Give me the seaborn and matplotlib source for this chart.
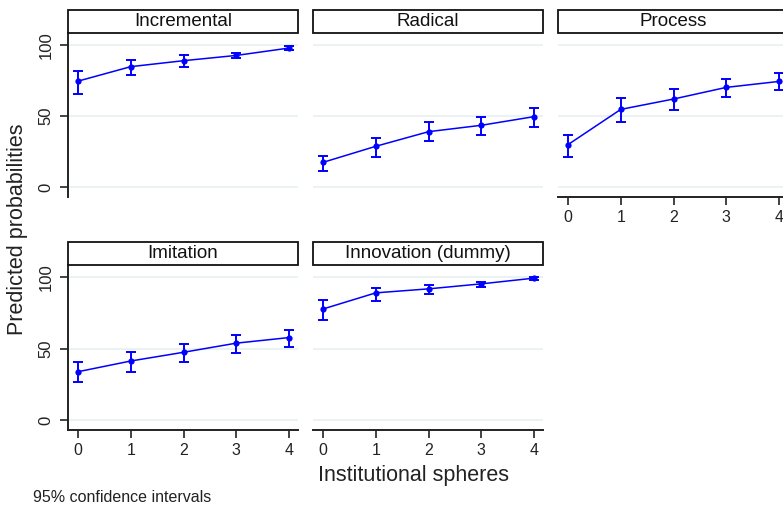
import numpy as np
import pandas as pd
import matplotlib
matplotlib.use("Agg")
import matplotlib.pyplot as plt
from matplotlib.patches import Rectangle
import seaborn as sns

# ---------------- data ----------------
categories = ["Incremental", "Radical", "Process", "Imitation", "Innovation (dummy)"]
spheres = [0, 1, 2, 3, 4]

incremental = [74.6, 84.8, 89.0, 92.7, 97.9]
incremental_lo = [65.8, 78.9, 84.5, 90.6, 96.7]
incremental_hi = [81.5, 89.4, 92.7, 94.6, 99.0]

radical = [17.4, 28.7, 39.0, 43.5, 49.6]
radical_lo = [11.5, 20.9, 32.2, 36.4, 42.5]
radical_hi = [22.1, 34.5, 45.8, 49.1, 55.4]

process = [29.9, 54.7, 62.0, 70.2, 74.4]
process_lo = [20.9, 45.8, 54.2, 63.6, 68.6]
process_hi = [36.4, 62.5, 68.8, 75.8, 80.3]

imitation = [33.8, 41.3, 47.4, 53.8, 57.7]
imitation_lo = [26.8, 33.3, 40.4, 46.7, 50.9]
imitation_hi = [40.4, 47.7, 53.1, 59.4, 62.7]

innovation = [77.7, 89.0, 91.8, 95.3, 99.3]
innovation_lo = [70.0, 83.3, 88.3, 93.0, 98.1]
innovation_hi = [84.3, 92.5, 94.6, 96.7, 100.2]

y_ticks = [0, 50, 100]
x_ticks = [0, 1, 2, 3, 4]

series = {
    "Incremental": (incremental, incremental_lo, incremental_hi),
    "Radical": (radical, radical_lo, radical_hi),
    "Process": (process, process_lo, process_hi),
    "Imitation": (imitation, imitation_lo, imitation_hi),
    "Innovation (dummy)": (innovation, innovation_lo, innovation_hi),
}

rows = []
for cat in categories:
    m, lo, hi = series[cat]
    for s, a, b, c in zip(spheres, m, lo, hi):
        rows.append({"outcome": cat, "spheres": s, "prob": a, "lo": b, "hi": c})
df = pd.DataFrame(rows)

# ---------------- style ----------------
sns.set_theme(style="white")
plt.rcParams["font.family"] = ["Liberation Sans", "DejaVu Sans"]

W, H = 783, 508
fig = plt.figure(figsize=(W / 100, H / 100), dpi=100)
fig.patch.set_facecolor("white")

def rect(x0, y0, x1, y1):
    return [x0 / W, 1 - y1 / H, (x1 - x0) / W, (y1 - y0) / H]

# plot-area pixel boxes (x0, top, x1, bottom); strip sits above
boxes = {
    "Incremental": (68, 33, 298, 197),
    "Radical": (313, 33, 543, 197),
    "Process": (558, 33, 788, 197),
    "Imitation": (68, 265, 298, 430),
    "Innovation (dummy)": (313, 265, 543, 430),
}
left_col = {"Incremental", "Imitation"}
has_xaxis = {"Process", "Imitation", "Innovation (dummy)"}
strip_px = 23

blue = "#0000FF"
grid_c = "#EAF2F3"
spine_c = "#222222"

for cat in categories:
    x0, y0, x1, y1 = boxes[cat]
    ax = fig.add_axes(rect(x0, y0, x1, y1))
    sub = df[df["outcome"] == cat]
    ax.errorbar(sub["spheres"], sub["prob"],
                yerr=[sub["prob"] - sub["lo"], sub["hi"] - sub["prob"]],
                fmt="none", ecolor=blue, elinewidth=1.4, capsize=3.5, capthick=1.4, zorder=3)
    sns.lineplot(data=sub, x="spheres", y="prob", ax=ax, color=blue, linewidth=1.1,
                 marker="o", markersize=4.5, markeredgewidth=0, zorder=4)
    ax.set_xlim(-0.19, 4.17)
    ax.set_ylim(-7, 108.5)
    ax.set_yticks(y_ticks)
    ax.set_xticks(x_ticks)
    for yv in y_ticks:
        ax.axhline(yv, color=grid_c, linewidth=1.5, zorder=0)
    ax.set_xlabel("")
    ax.set_ylabel("")
    for s in ["top", "right"]:
        ax.spines[s].set_visible(False)
    ax.spines["left"].set_visible(cat in left_col)
    ax.spines["bottom"].set_visible(cat in has_xaxis)
    ax.spines["left"].set_color(spine_c)
    ax.spines["bottom"].set_color(spine_c)
    ax.spines["left"].set_linewidth(1.4)
    ax.spines["bottom"].set_linewidth(1.4)
    ax.tick_params(axis="y", left=cat in left_col, labelleft=cat in left_col,
                   length=5.5, width=1.2, color=spine_c, labelsize=12, pad=5)
    ax.tick_params(axis="x", bottom=cat in has_xaxis, labelbottom=cat in has_xaxis,
                   length=5.5, width=1.2, color=spine_c, labelsize=11.5, pad=4)
    for lab in ax.get_yticklabels():
        lab.set_rotation(90)
        lab.set_va("center")
        lab.set_color("#222222")
    for lab in ax.get_xticklabels():
        lab.set_color("#222222")
    # strip header
    h = strip_px / (y1 - y0)
    ax.add_patch(Rectangle((0, 1.0), 1, h, transform=ax.transAxes, clip_on=False,
                           facecolor="white", edgecolor="#111111", linewidth=1.3, zorder=5))
    ax.text(0.5, 1.0 + h / 2, cat, transform=ax.transAxes, ha="center", va="center",
            fontsize=13.5, color="#111111", zorder=6)

fig.text(18 / W, 1 - 229 / H, "Predicted probabilities", rotation=90,
         ha="center", va="center", fontsize=15.5, color="#222222")
fig.text(413 / W, 1 - 475 / H, "Institutional spheres", ha="center", va="center",
         fontsize=15.5, color="#222222")
fig.text(33 / W, 1 - 497 / H, "95% confidence intervals", ha="left", va="center",
         fontsize=11.5, color="#222222")

fig.savefig("out.png", dpi=100, facecolor="white")
